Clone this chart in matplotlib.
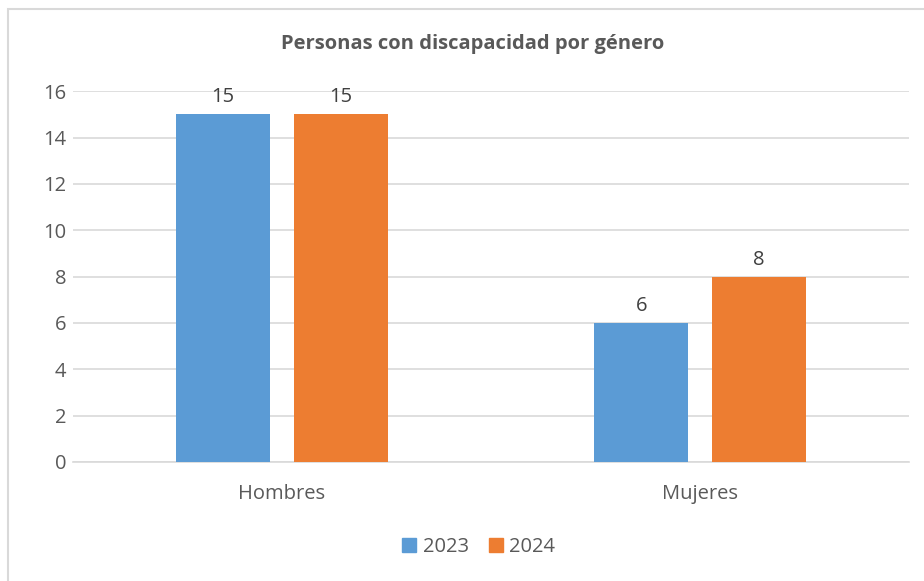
import matplotlib.pyplot as plt
import matplotlib.patches as mpatches
import numpy as np

# data
categories = ["Hombres", "Mujeres"]
years = ["2023", "2024"]
values_2023 = [15, 6]
values_2024 = [15, 8]
colors = ["#5B9BD5", "#ED7D31"]

plt.rcParams["font.family"] = ["Open Sans", "DejaVu Sans"]

fig = plt.figure(figsize=(9.24, 5.81), dpi=100)
ax = fig.add_axes([0.079, 0.205, 0.905, 0.638])

# chart frame
fig.patches.append(mpatches.Rectangle((8 / 924, -0.05), 1.05, 1 - 9 / 581 + 0.05,
                                      transform=fig.transFigure, fill=False,
                                      edgecolor="#d9d9d9", linewidth=1.5))

x = np.arange(len(categories))
width = 0.225
offset = 0.141
for vals, off, col, lab in [(values_2023, -offset, colors[0], years[0]),
                            (values_2024, offset, colors[1], years[1])]:
    bars = ax.bar(x + off, vals, width, color=col, label=lab, zorder=3)
    for b, v in zip(bars, vals):
        ax.text(b.get_x() + b.get_width() / 2, v + 0.3, str(v),
                ha="center", va="bottom", fontsize=14.5, color="#404040")

ax.set_xlim(-0.5, 1.5)
ax.set_ylim(0, 16)
ax.set_yticks(range(0, 17, 2))
ax.set_xticks(x)
ax.set_xticklabels(categories)
ax.tick_params(axis="both", length=0, labelsize=14.5, colors="#595959")
ax.tick_params(axis="y", pad=5)
ax.tick_params(axis="x", pad=16)
ax.grid(axis="y", color="#d9d9d9", linewidth=1.2, zorder=0)
for s in ["top", "right", "left"]:
    ax.spines[s].set_visible(False)
ax.spines["bottom"].set_color("#d9d9d9")
ax.spines["bottom"].set_linewidth(1.2)

fig.text(0.512, 0.925, "Personas con discapacidad por género", ha="center",
         va="center", fontsize=14.5, fontweight="bold", color="#595959")

handles = [mpatches.Patch(color=c, label=y) for c, y in zip(colors, years)]
fig.legend(handles=handles, loc="center", bbox_to_anchor=(0.518, 0.058), ncol=2,
           frameon=False, fontsize=14.5, handlelength=0.7, handleheight=0.7,
           handletextpad=0.3, columnspacing=1.0, labelcolor="#595959")

fig.savefig("out.png", dpi=100)
